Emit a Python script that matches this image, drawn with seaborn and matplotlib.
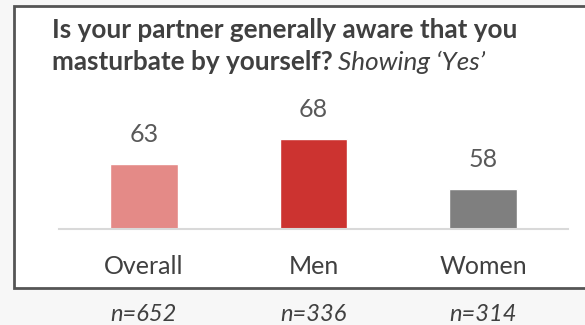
import matplotlib
matplotlib.use("Agg")
import matplotlib.pyplot as plt
import seaborn as sns
import pandas as pd
from matplotlib.patches import Rectangle

# Survey results: share answering "Yes"
categories = ["Overall", "Men", "Women"]
values = [63, 68, 58]
sample_sizes = ["n=652", "n=336", "n=314"]
bar_colors = ["#E48A87", "#CC3330", "#7F7F7F"]

title_line1 = "Is your partner generally aware that you"
title_line2 = "masturbate by yourself?"
title_italic = "Showing \u2018Yes\u2019"

sns.set_theme(style="white")
plt.rcParams["font.family"] = ["Lato", "DejaVu Sans"]

W, H = 585, 325
fig = plt.figure(figsize=(W / 100, H / 100), dpi=100)
fig.patch.set_facecolor("#f7f7f7")

# White panel with a dark frame (runs off the right edge)
panel = Rectangle((13.7 / W, 1 - 287.7 / H), 1.0, (287.7 - 6.2) / H,
                  transform=fig.transFigure, facecolor="white",
                  edgecolor="#555555", linewidth=2.0, zorder=-10)
fig.patches.append(panel)

# Bar axes positioned inside the panel
ax_left, ax_right = 59, 568
ax_base, ax_top = 229, 100
ax = fig.add_axes([ax_left / W, 1 - ax_base / H,
                   (ax_right - ax_left) / W, (ax_base - ax_top) / H])
ax.set_facecolor("none")
ax.set_zorder(5)

df = pd.DataFrame({"category": categories, "value": values})
sns.barplot(data=df, x="category", y="value", hue="category",
            palette=bar_colors, order=categories, hue_order=categories,
            width=0.40, legend=False, ax=ax, saturation=1)

ax.set_xlim(-0.5, 2.5)
ax.set_ylim(50, 50 + (ax_base - ax_top) / 5)
ax.set_xlabel("")
ax.set_ylabel("")
ax.set_yticks([])
for side in ["left", "right", "top"]:
    ax.spines[side].set_visible(False)
ax.spines["bottom"].set_color("#d9d9d9")
ax.spines["bottom"].set_linewidth(1.5)

ax.tick_params(axis="x", length=0, pad=19, labelsize=18, labelcolor="#404040")

for container in ax.containers:
    ax.bar_label(container, fmt="%d", padding=13, fontsize=18, color="#595959")

# Sample sizes under each category
for i, n in enumerate(sample_sizes):
    ax.annotate(n, xy=(i, 0), xycoords=("data", "figure fraction"),
                xytext=(0, 1 - 321 / H), textcoords=("offset points", "figure fraction"),
                ha="center", va="baseline", fontsize=17, style="italic", color="#404040")

# Two-part title: bold question followed by italic note
title_size = 18.8
fig.text(52 / W, 1 - 38 / H, title_line1,
         fontsize=title_size, fontweight="bold", color="#404040", va="baseline", ha="left")
t2 = fig.text(52 / W, 1 - 70 / H, title_line2,
              fontsize=title_size, fontweight="bold", color="#404040", va="baseline", ha="left")
fig.canvas.draw()
bb = t2.get_window_extent()
fig.text((bb.x1 + 5) / W, 1 - 70 / H, title_italic,
         fontsize=title_size, style="italic", color="#404040", va="baseline", ha="left")

fig.savefig("out.png", dpi=100, facecolor=fig.get_facecolor())
